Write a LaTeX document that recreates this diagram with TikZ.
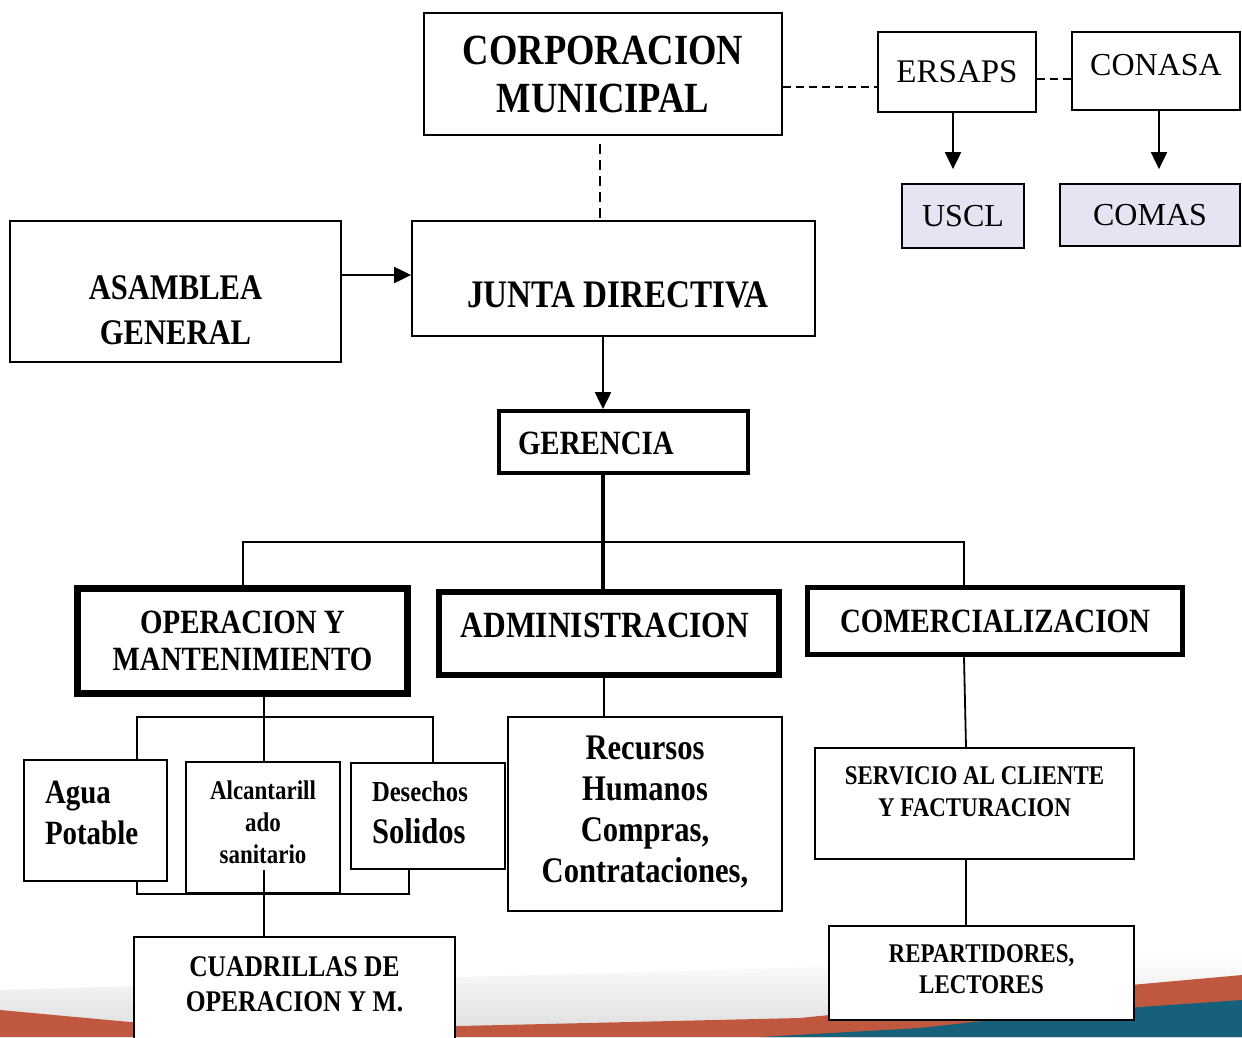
\documentclass[tikz,border=0pt]{standalone}
\usepackage{fontspec}
\usetikzlibrary{arrows.meta}
\newfontfamily\tb[FakeStretch=0.85]{Liberation Serif}
\newfontfamily\trm{Liberation Serif}
\newcommand\ft[2]{\fontsize{#1}{#2}\selectfont}
\newcommand\tx[4]{\raisebox{#1}[\height][\depth]{\parbox{#2}{#3#4}}}
\definecolor{lav}{HTML}{E4E4F2}
\definecolor{bandred}{HTML}{C0583F}
\definecolor{bandteal}{HTML}{16607A}
\begin{document}
\begin{tikzpicture}[x=1pt,y=-1pt,
  bx/.style={draw, line width=1.8pt, fill=white, inner sep=0pt},
  con/.style={line width=1.8pt},
  arr/.style={line width=2pt, -{Triangle[length=17pt,width=16pt]}},
  dsh/.style={line width=1.5pt, dash pattern=on 8pt off 5pt}]
\useasboundingbox (0,0) rectangle (1242,1037);
\clip (0,0) rectangle (1242,1037);
% background band
\shade[top color=white, bottom color=black!12] (0,990) -- (1242,955) -- (1242,976) -- (1053,993) -- (800,1019) -- (460,1027) -- (130,1023) -- (0,1011) -- cycle;
\fill[bandred] (0,1010) -- (130,1022) -- (460,1026) -- (800,1018) -- (1053,992) -- (1242,975) -- (1242,1037) -- (0,1037) -- cycle;
\fill[bandteal] (760,1037) -- (920,1028) -- (1053,1013) -- (1242,1000) -- (1242,1037) -- cycle;

% nodes
\node[bx, minimum width=358pt, minimum height=122pt] (corp) at (603,74)
  {\tx{0pt}{340pt}{\centering\tb\bfseries\ft{43}{48}}{CORPORACION\\MUNICIPAL}};
\node[bx, minimum width=158pt, minimum height=80pt] (ersaps) at (957,72)
  {\tx{0pt}{150pt}{\centering\trm\ft{33}{36}}{ERSAPS}};
\node[bx, minimum width=168pt, minimum height=78pt] (conasa) at (1156,71)
  {\tx{6pt}{160pt}{\centering\trm\ft{32}{36}}{CONASA}};
\node[bx, fill=lav, minimum width=122pt, minimum height=64pt] (uscl) at (963,216)
  {\tx{0pt}{115pt}{\centering\trm\ft{32}{36}}{USCL}};
\node[bx, fill=lav, minimum width=180pt, minimum height=62pt] (comas) at (1150,215)
  {\tx{0pt}{170pt}{\centering\trm\ft{32}{36}}{COMAS}};
\node[bx, minimum width=331pt, minimum height=141pt] (asam) at (175.5,291.5)
  {\tx{-19pt}{320pt}{\centering\tb\bfseries\ft{36}{45}}{ASAMBLEA\\GENERAL}};
\node[bx, minimum width=403pt, minimum height=115pt] (junta) at (613.5,278.5)
  {\tx{-16pt}{390pt}{\centering\tb\bfseries\ft{39}{44}\hspace*{9pt}}{JUNTA DIRECTIVA}};
\node[bx, line width=4pt, minimum width=249pt, minimum height=62pt] (ger) at (623.5,442)
  {\tx{-1.5pt}{211pt}{\raggedright\tb\bfseries\ft{34}{40}}{GERENCIA}};
\node[bx, line width=7pt, minimum width=330pt, minimum height=105pt] (op) at (242.5,641)
  {\tx{0pt}{320pt}{\centering\tb\bfseries\ft{34}{37}}{OPERACION Y\\MANTENIMIENTO}};
\node[bx, line width=5.5pt, minimum width=340pt, minimum height=83pt] (adm) at (609,633.5)
  {\tx{8pt}{330pt}{\centering\tb\bfseries\ft{37}{42}\hspace*{-8pt}}{ADMINISTRACION}};
\node[bx, line width=5.5pt, minimum width=375pt, minimum height=67pt] (com) at (995,621)
  {\tx{0pt}{365pt}{\centering\tb\bfseries\ft{34}{40}}{COMERCIALIZACION}};
\node[bx, minimum width=143pt, minimum height=121pt] (agua) at (95.5,820.5)
  {\tx{8pt}{101pt}{\raggedright\tb\bfseries\ft{34}{41}}{Agua\\Potable}};
\node[bx, minimum width=154pt, minimum height=131pt] (alc) at (263,827.5)
  {\tx{5.5pt}{150pt}{\centering\tb\bfseries\ft{27}{32}}{Alcantarill\\ado\\sanitario}};
\node[bx, minimum width=154pt, minimum height=106pt] (des) at (428,816)
  {\tx{3pt}{112pt}{\raggedright\tb\bfseries\ft{36}{42}}{{\ft{29}{34}Desechos}\\Solidos}};
\node[bx, minimum width=274pt, minimum height=194pt] (rec) at (645,814)
  {\tx{2pt}{260pt}{\centering\tb\bfseries\ft{36}{41}}{Recursos\\Humanos\\Compras,\\Contrataciones,}};
\node[bx, minimum width=321pt, minimum height=108pt] (cuad) at (294.5,991)
  {\tx{6.5pt}{310pt}{\centering\tb\bfseries\ft{30}{35}}{CUADRILLAS DE\\OPERACION Y M.}};
\node[bx, minimum width=319pt, minimum height=111pt] (serv) at (974.5,803.5)
  {\tx{11.5pt}{305pt}{\centering\tb\bfseries\ft{27}{32}}{SERVICIO AL CLIENTE\\Y FACTURACION}};
\node[bx, minimum width=305pt, minimum height=94pt] (rep) at (981.5,973)
  {\tx{3.5pt}{290pt}{\centering\tb\bfseries\ft{27}{31}}{REPARTIDORES,\\LECTORES}};

% coordinates
\coordinate (cb) at ([yshift=-8pt]corp.south);
\coordinate (busL) at (243,542);
\coordinate (busR) at (964,542);
\coordinate (ot) at (264,717);
\coordinate (otL) at (137,717);
\coordinate (otR) at (433,717);
\coordinate (obL) at (137,894);
\coordinate (obR) at (409,894);
\coordinate (alcin) at (264,870);

% connectors
\draw[dsh] (corp.east |- 0,87) -- (ersaps.west |- 0,87);
\draw[dsh] (ersaps.east |- 0,79) -- (conasa.west |- 0,79);
\draw[dsh, dash pattern=on 10pt off 6pt] (cb -| 600,0) -- (junta.north -| 600,0);
\draw[arr, shorten >=14pt] (ersaps.south -| 953,0) -- (uscl.north -| 953,0);
\draw[arr, shorten >=14pt] (conasa.south -| 1159,0) -- (comas.north -| 1159,0);
\draw[arr] (asam.east |- 0,275) -- (junta.west |- 0,275);
\draw[arr, line width=2.5pt] (junta.south -| 603,0) -- (ger.north -| 603,0);
\draw[line width=3.5pt] (ger.south -| 603,0) -- (adm.north -| 603,0);
\draw[con] (op.north -| busL) -- (busL) -- (busR) -- (com.north -| busR);
\draw[con] (op.south -| ot) -- (ot);
\draw[con] (agua.north -| otL) -- (otL) -- (otR) -- (des.north -| otR);
\draw[con] (ot) -- (alc.north -| ot);
\draw[con] (agua.south -| obL) -- (obL) -- (obR) -- (des.south -| obR);
\draw[con] (alcin) -- (cuad.north -| alcin);
\draw[con] (adm.south -| 604,0) -- (rec.north -| 604,0);
\draw[con] (com.south -| 964,0) -- (serv.north -| 966,0);
\draw[con] (serv.south -| 966,0) -- (rep.north -| 966,0);
\end{tikzpicture}
\end{document}
